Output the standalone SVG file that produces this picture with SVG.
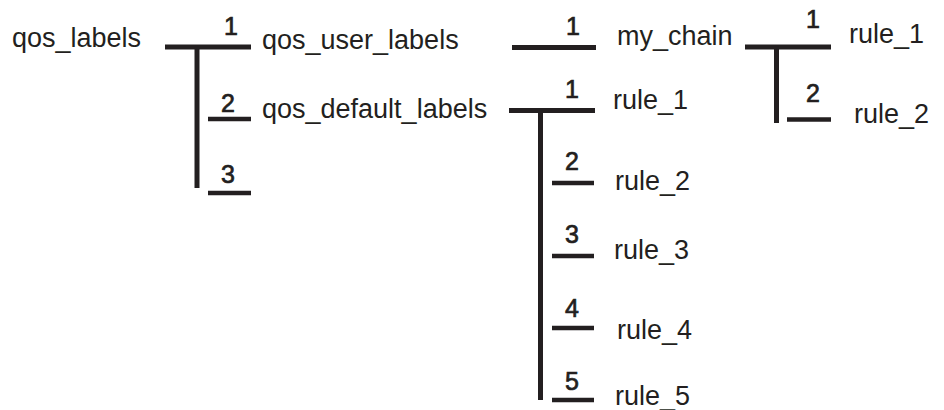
<svg xmlns="http://www.w3.org/2000/svg" width="944" height="410" viewBox="0 0 944 410">
<style>
.lbl{font-family:"Liberation Sans",Arial,sans-serif;font-size:27px;fill:#231f20}
.num{font-family:"Liberation Sans",Arial,sans-serif;font-size:25px;fill:#231f20;stroke:#231f20;stroke-width:0.7;text-anchor:middle}
.bar{stroke:#231f20;stroke-width:5;fill:none}
.tick{stroke:#231f20;stroke-width:4.5;fill:none}
</style>
<rect width="944" height="410" fill="#ffffff"/>
<g id="connectors">
  <line class="bar" x1="165" y1="47" x2="251" y2="47"/>
  <line class="bar" x1="197" y1="47" x2="197" y2="188"/>
  <line class="tick" x1="208" y1="119" x2="251" y2="119"/>
  <line class="tick" x1="208" y1="193" x2="251" y2="193"/>
  <line class="bar" x1="512" y1="47.5" x2="596" y2="47.5"/>
  <line class="bar" x1="509" y1="110.5" x2="595" y2="110.5"/>
  <line class="bar" x1="540.5" y1="110" x2="540.5" y2="400"/>
  <line class="tick" x1="552" y1="183" x2="594" y2="183"/>
  <line class="tick" x1="552" y1="256" x2="594" y2="256"/>
  <line class="tick" x1="552" y1="328" x2="594" y2="328"/>
  <line class="tick" x1="552" y1="400" x2="594" y2="400"/>
  <line class="bar" x1="745" y1="47" x2="831" y2="47"/>
  <line class="bar" x1="776.5" y1="47" x2="776.5" y2="123"/>
  <line class="tick" x1="787" y1="119.5" x2="831" y2="119.5"/>
  <text class="num" x="231" y="35">1</text>
  <text class="num" x="228" y="112">2</text>
  <text class="num" x="228" y="183">3</text>
  <text class="num" x="573" y="35">1</text>
  <text class="num" x="572" y="98">1</text>
  <text class="num" x="572" y="170">2</text>
  <text class="num" x="572" y="243">3</text>
  <text class="num" x="572" y="317">4</text>
  <text class="num" x="572" y="390">5</text>
  <text class="num" x="813" y="28">1</text>
  <text class="num" x="813" y="102">2</text>
</g>
<g id="qos_labels"><text class="lbl" x="12" y="47">qos_labels</text></g>
<g id="qos_user_labels"><text class="lbl" x="262" y="49">qos_user_labels</text></g>
<g id="qos_default_labels"><text class="lbl" x="262" y="118">qos_default_labels</text></g>
<g id="my_chain"><text class="lbl" x="617" y="45">my_chain</text></g>
<g id="chain_rule_1"><text class="lbl" x="849" y="43">rule_1</text></g>
<g id="chain_rule_2"><text class="lbl" x="854" y="123">rule_2</text></g>
<g id="default_rule_1"><text class="lbl" x="613" y="109">rule_1</text></g>
<g id="default_rule_2"><text class="lbl" x="615" y="190">rule_2</text></g>
<g id="default_rule_3"><text class="lbl" x="614" y="259">rule_3</text></g>
<g id="default_rule_4"><text class="lbl" x="617" y="339">rule_4</text></g>
<g id="default_rule_5"><text class="lbl" x="615" y="405">rule_5</text></g>
</svg>
